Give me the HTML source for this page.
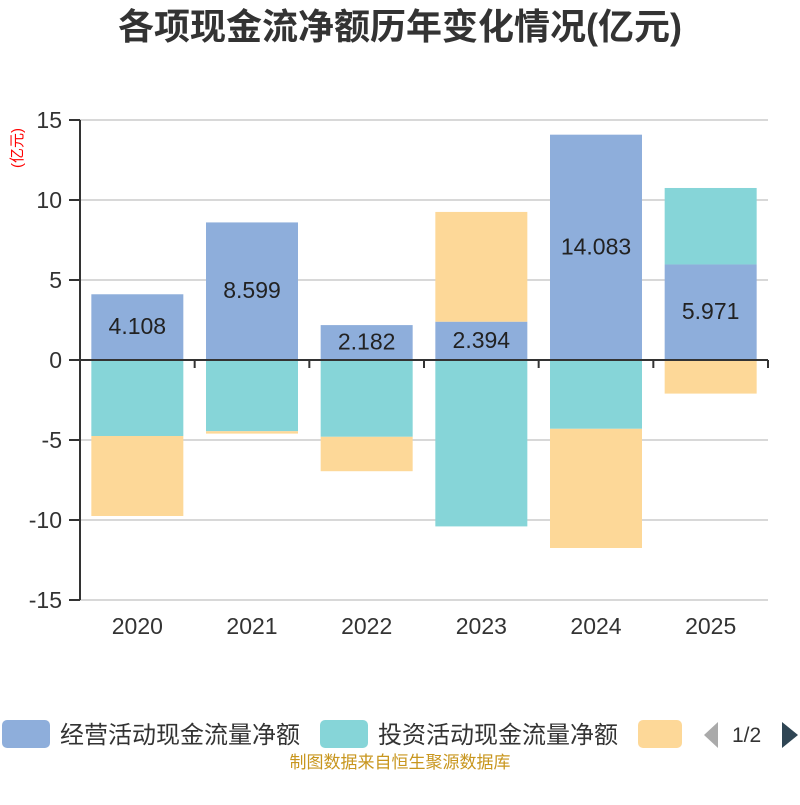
<!DOCTYPE html>
<html><head><meta charset="utf-8"><style>
body{margin:0;background:#fff;font-family:"Liberation Sans","Noto Sans CJK SC",sans-serif;}
</style></head><body>
<svg id="c" width="800" height="800" xmlns="http://www.w3.org/2000/svg">
<text x="400" y="39" text-anchor="middle" font-size="36" font-weight="bold" fill="#333" font-family="Liberation Sans,Noto Sans CJK SC,sans-serif">各项现金流净额历年变化情况(亿元)</text>
<text transform="translate(22,148) rotate(-90)" text-anchor="middle" font-size="15" fill="#ff0000" font-family="Liberation Sans,Noto Sans CJK SC,sans-serif">(亿元)</text>
<g id="grid"></g><g id="bars"></g><g id="axes"></g>
<g font-family="Liberation Sans,Noto Sans CJK SC,sans-serif" font-size="24" fill="#333">
<rect x="2" y="720" width="48" height="28" rx="5" fill="#8eaedb"/>
<text x="60" y="743">经营活动现金流量净额</text>
<rect x="320" y="720" width="48" height="28" rx="5" fill="#86d5d8"/>
<text x="378" y="743">投资活动现金流量净额</text>
<rect x="638" y="720" width="44" height="28" rx="5" fill="#fdd898"/>
<path d="M718 722 L718 748 L704 735 Z" fill="#aaa"/>
<text x="732" y="742" font-size="21">1/2</text>
<path d="M782 722 L782 748 L798 735 Z" fill="#2f4554"/>
</g>
<text x="400" y="768" text-anchor="middle" font-size="17" fill="#c8961e" font-family="Liberation Sans,Noto Sans CJK SC,sans-serif">制图数据来自恒生聚源数据库</text>
</svg>
<script>
const years=["2020","2021","2022","2023","2024","2025"];
const operating=[4.108,8.599,2.182,2.394,14.083,5.971];
const investing=[-4.75,-4.45,-4.8,-10.4,-4.3,4.78];
const financing=[-5.0,-0.15,-2.15,6.86,-7.45,-2.1];
const ticks=[15,10,5,0,-5,-10,-15];
const NS="http://www.w3.org/2000/svg";
const x0=80,x1=768,yTop=120,yBot=600,vMax=15,vMin=-15;
const y=v=>yTop+(vMax-v)/(vMax-vMin)*(yBot-yTop);
const bw=(x1-x0)/years.length;
function mk(t,a,p){const e=document.createElementNS(NS,t);for(const k in a)e.setAttribute(k,a[k]);p.appendChild(e);return e;}
const grid=document.getElementById('grid'),bars=document.getElementById('bars'),axes=document.getElementById('axes');
ticks.forEach(t=>{
 const l=mk('line',{x1:x0,x2:x1,y1:y(t),y2:y(t),stroke:'#ccc','stroke-width':1.5},grid);
 
 
 const tk=mk('line',{x1:69,x2:x0,y1:y(t),y2:y(t),stroke:'#333','stroke-width':2},axes);
 
 
 const tx=mk('text',{x:62,y:y(t)+8,'text-anchor':'end','font-size':23,fill:'#333','font-family':'Liberation Sans,sans-serif'},axes);
 tx.textContent=t;
 
 
});
const colors=['#8eaedb','#86d5d8','#fdd898'];
const series=[operating,investing,financing];
years.forEach((yr,i)=>{
 let pos=0,neg=0;
 const w=92,bx=x0+i*bw+(bw-w)/2;
 series.forEach((s,si)=>{
  const v=s[i];let a,b;
  if(v>=0){a=pos;b=pos+v;pos=b;}else{a=neg;b=neg+v;neg=b;}
  const r=mk('rect',{x:bx,width:w,y:y(Math.max(a,b)),height:Math.abs(y(a)-y(b)),fill:colors[si]},bars);
  
  
 });
 const v=operating[i];
 const lb=mk('text',{x:bx+w/2,y:y(v/2)+7,'text-anchor':'middle','font-size':23,fill:'#222','font-family':'Liberation Sans,sans-serif'},bars);
 lb.textContent=v.toFixed(3);
 
 
 const xt=mk('text',{x:x0+i*bw+bw/2,y:634,'text-anchor':'middle','font-size':23,fill:'#333','font-family':'Liberation Sans,sans-serif'},axes);
 xt.textContent=yr;
 
 
});
for(let i=0;i<=years.length;i++){
 const t=mk('line',{x1:x0+i*bw,x2:x0+i*bw,y1:y(0),y2:y(0)+8,stroke:'#333','stroke-width':2},axes);
 
 
}
const za=mk('line',{x1:x0,x2:x1,y1:y(0),y2:y(0),stroke:'#333','stroke-width':2},axes);


const ya=mk('line',{x1:x0,x2:x0,y1:yTop,y2:yBot,stroke:'#333','stroke-width':2},axes);


</script>
</body></html>
